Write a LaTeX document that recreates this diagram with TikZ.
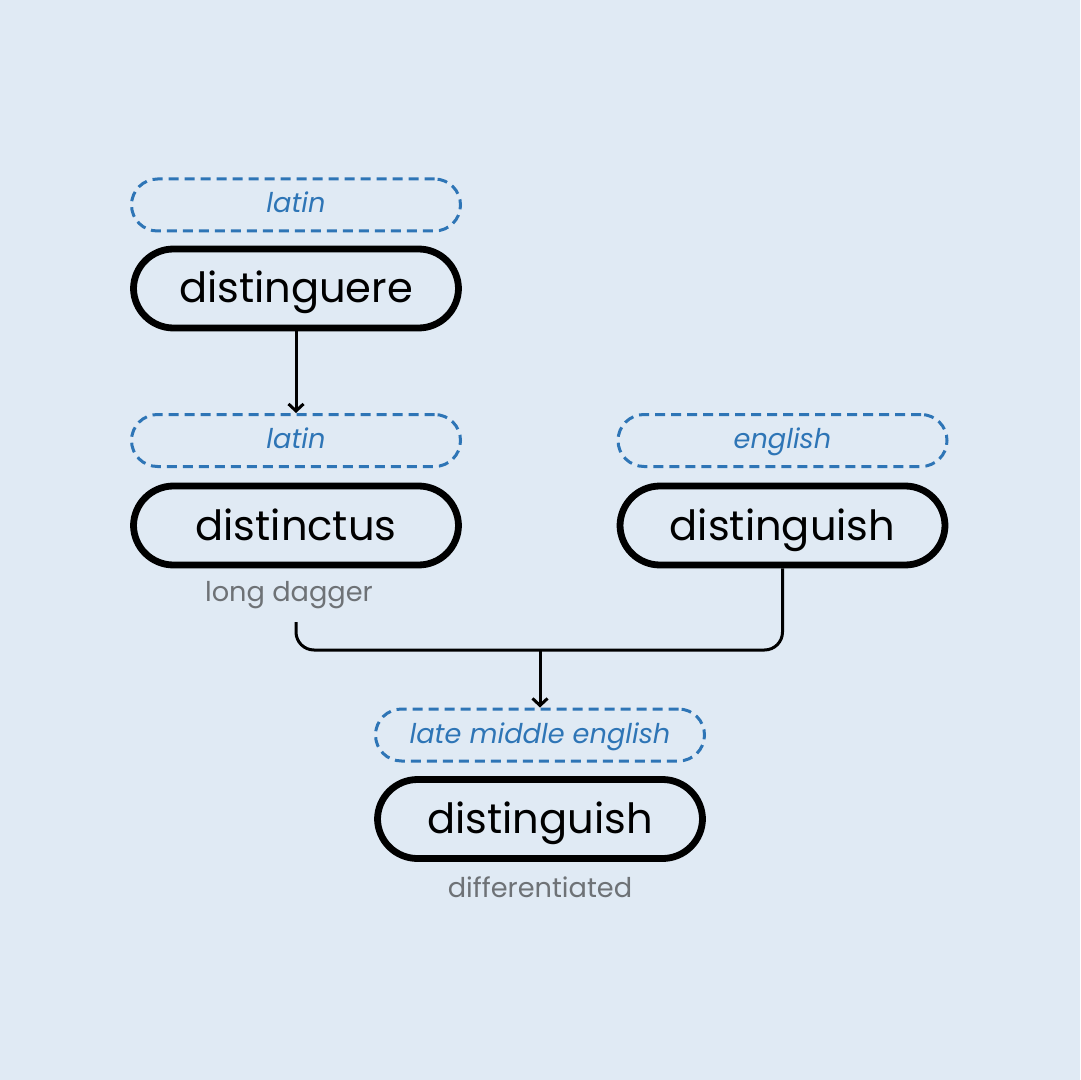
\documentclass[tikz,border=0pt]{standalone}
\usepackage{fontspec}
\setmainfont{Poppins}
\usetikzlibrary{arrows.meta}
\definecolor{bg}{HTML}{E0EAF4}
\definecolor{lblue}{HTML}{2E75B6}
\definecolor{gtext}{HTML}{6E7276}
\tikzset{
  word/.style={draw=black, line width=3.4pt, rounded corners=20pt, minimum width=162.5pt, minimum height=39.5pt, inner sep=0pt, text height=15.5pt, text depth=1pt, font=\fontsize{20.8}{24}\selectfont, text=black},
  lang/.style={draw=lblue, line width=1.5pt, dash pattern=on 5pt off 3pt, rounded corners=13pt, minimum width=164.5pt, minimum height=26pt, inner sep=0pt, text height=10pt, text depth=2pt, font=\fontsize{13.6}{16}\selectfont\itshape, text=lblue},
  gloss/.style={font=\fontsize{13.6}{16}\selectfont, text=gtext, inner sep=0pt},
  conn/.style={draw=black, line width=1.5pt},
  arr/.style={conn, -{Straight Barb[length=3.5pt, width=7.5pt]}}
}
\begin{document}
\begin{tikzpicture}[x=0.5pt, y=-0.5pt]
\fill[bg] (0,0) rectangle (1080,1080);
\useasboundingbox (0,0) rectangle (1080,1080);
\node[lang] (l1) at (296,205) {latin};
\node[word] (w1) at (296,288.5) {distinguere};
\node[lang] (l2) at (296,440.5) {latin};
\node[word] (w2) at (296,525.5) {distinctus};
\node[gloss] (g2) at (289,595) {long dagger};
\node[lang] (l3) at (782.5,440.5) {english};
\node[word] (w3) at (782.5,525.5) {distinguish};
\node[lang] (l4) at (540,735) {late middle english};
\node[word] (w4) at (540,819) {distinguish};
\node[gloss] (g4) at (540,887) {differentiated};
\coordinate (j1) at (296,622);
\coordinate (jm) at (540,650);
\draw[arr] (w1.south) -- (l2.north);
\draw[conn, rounded corners=9pt] (j1) |- (jm) -| (w3.south);
\draw[arr] (jm) -- (l4.north);
\end{tikzpicture}
\end{document}
